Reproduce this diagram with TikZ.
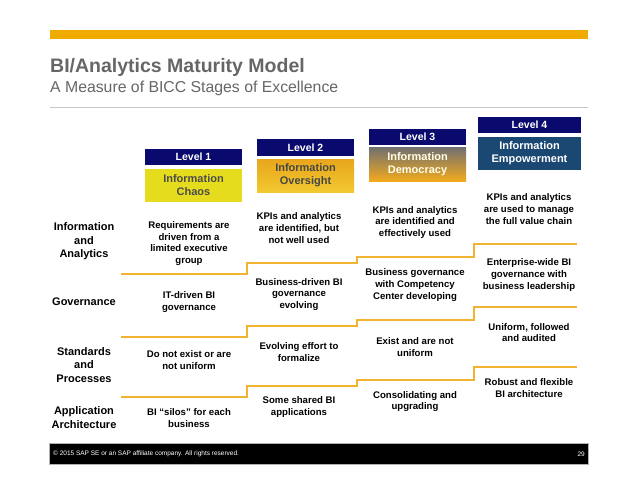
\documentclass[tikz,border=0pt]{standalone}
\usepackage{fontspec}
\setmainfont{Liberation Sans}
\usetikzlibrary{positioning}
\definecolor{sapgold}{RGB}{240,171,0}
\definecolor{stepcol}{RGB}{240,180,50}
\definecolor{navy}{RGB}{10,10,110}
\definecolor{lvone}{RGB}{230,220,30}
\definecolor{lvtwotop}{RGB}{232,166,28}
\definecolor{lvtwobot}{RGB}{242,200,48}
\definecolor{lvthreetop}{RGB}{112,112,112}
\definecolor{lvthreebot}{RGB}{242,170,30}
\definecolor{lvfour}{RGB}{27,72,115}
\definecolor{titlegray}{RGB}{102,102,102}
\begin{document}
\begin{tikzpicture}[x=1pt,y=-1pt,
  cell/.style={font=\bfseries\fontsize{9.6}{11.7}\selectfont, align=center, inner sep=0pt},
  rowlab/.style={font=\bfseries\fontsize{11}{13.5}\selectfont, align=center, inner sep=0pt},
  lvhead/.style={fill=navy, text=white, font=\bfseries\fontsize{10.5}{12}\selectfont, minimum width=97pt, minimum height=16pt, inner sep=0pt},
  lvbox/.style={minimum width=97pt, minimum height=33pt, inner sep=0pt, font=\bfseries\fontsize{11}{13}\selectfont, align=center},
  stepline/.style={draw=stepcol, line width=2pt}
]
\useasboundingbox (0,0) rectangle (638,493);
% header
\fill[sapgold] (50,30) rectangle (588,39);
\node[anchor=base west, inner sep=0pt, text=titlegray, font=\bfseries\fontsize{19.5}{22}\selectfont] (title) at (50,72) {BI/Analytics Maturity Model};
\node[anchor=base west, inner sep=0pt, text=titlegray, font=\fontsize{15.8}{18}\selectfont] (subtitle) at (50,92) {A Measure of BICC Stages of Excellence};
\draw[gray!45, line width=0.8pt] (50,107) -- (588,107);

% levels
\node[lvhead] (h1) at (193.5,157) {Level 1};
\node[lvbox, fill=lvone, text=black!70] (b1) at (193.5,185) {Information\\Chaos};
\node[lvhead, minimum height=17pt] (h2) at (305.5,147.5) {Level 2};
\node[lvbox, top color=lvtwotop, bottom color=lvtwobot, text=black!72] (b2) at (305.5,175.5) {Information\\Oversight};
\node[lvhead] (h3) at (417.5,137) {Level 3};
\node[lvbox, minimum height=34pt, top color=lvthreetop, bottom color=lvthreebot, text=white!92!yellow] (b3) at (417.5,164) {Information\\Democracy};
\node[lvhead, minimum width=103pt] (h4) at (529.5,125) {Level 4};
\node[lvbox, minimum width=103pt, fill=lvfour, text=white] (b4) at (529.5,153.5) {Information\\Empowerment};

% row labels
\node[rowlab] (r1) at (84,241.5) {Information\\and\\Analytics};
\node[rowlab] (r2) at (84,302) {Governance};
\node[rowlab] (r3) at (84,365) {Standards\\and\\Processes};
\node[rowlab] (r4) at (84,417.5) {Application\\Architecture};

% row 1
\node[cell] (c11) at (189,243.5) {Requirements are\\driven from a\\limited executive\\group};
\node[cell] (c12) at (299,228) {KPIs and analytics\\are identified, but\\not well used};
\node[cell] (c13) at (415,222.5) {KPIs and analytics\\are identified and\\effectively used};
\node[cell] (c14) at (529,209) {KPIs and analytics\\are used to manage\\the full value chain};
% row 2
\node[cell] (c21) at (189,302) {IT-driven BI\\governance};
\node[cell] (c22) at (299,294.5) {Business-driven BI\\governance\\evolving};
\node[cell] (c23) at (415,285) {Business governance\\with Competency\\Center developing};
\node[cell] (c24) at (529,275) {Enterprise-wide BI\\governance with\\business leadership};
% row 3
\node[cell] (c31) at (189,360) {Do not exist or are\\not uniform};
\node[cell] (c32) at (299,352) {Evolving effort to\\formalize};
\node[cell] (c33) at (415,347) {Exist and are not\\uniform};
\node[cell] (c34) at (529,332.5) {Uniform, followed\\and audited};
% row 4
\node[cell] (c41) at (189,418) {BI “silos” for each\\business};
\node[cell] (c42) at (299,407) {Some shared BI\\applications};
\node[cell] (c43) at (415,401.5) {Consolidating and\\upgrading};
\node[cell] (c44) at (529,388) {Robust and flexible\\BI architecture};

% step lines
\draw[stepline] (121,274) -- (247,274) -- (247,263) -- (357,263) -- (357,257) -- (474,257) -- (474,244) -- (577,244);
\draw[stepline] (121,337) -- (247,337) -- (247,326) -- (357,326) -- (357,320) -- (474,320) -- (474,307) -- (577,307);
\draw[stepline] (121,397) -- (247,397) -- (247,386) -- (357,386) -- (357,380) -- (474,380) -- (474,367) -- (577,367);

% footer
\filldraw[fill=black, draw=gray!60, line width=0.6pt] (49,443) rectangle (588,464);
\node[anchor=west, inner sep=0pt, text=white, font=\fontsize{6.5}{8}\selectfont] (copy) at (53,454) {© 2015 SAP SE or an SAP affiliate company. All rights reserved.};
\node[anchor=east, inner sep=0pt, text=white, font=\fontsize{6.5}{8}\selectfont] (page) at (585,454) {29};
\end{tikzpicture}
\end{document}
